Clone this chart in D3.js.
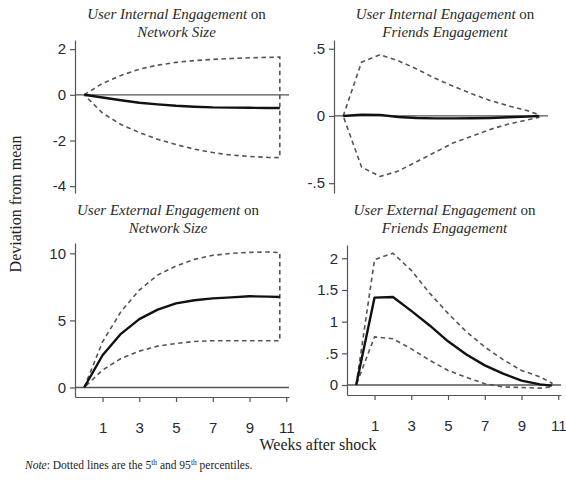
<!DOCTYPE html>
<html>
<head>
<meta charset="utf-8">
<script src="https://cdn.jsdelivr.net/npm/d3@7"></script>
<style>
  html, body { margin: 0; padding: 0; background: #fff; }
  svg { display: block; }
</style>
</head>
<body>
<svg id="chart" width="566" height="484"></svg>
<script>
// ---------- data ----------
const weeks = [0, 1, 2, 3, 4, 5, 6, 7, 8, 9, 10, 10.65];
const xTickValues = [1, 3, 5, 7, 9, 11];

// Top-left: User Internal Engagement on Network Size
const tlIrf = [0, -0.12, -0.24, -0.35, -0.42, -0.48, -0.52, -0.55, -0.56, -0.57, -0.58, -0.58];
const tlHi  = [0, 0.5, 0.85, 1.12, 1.3, 1.42, 1.5, 1.55, 1.59, 1.62, 1.64, 1.65];
const tlLo  = [0, -0.8, -1.3, -1.65, -1.95, -2.18, -2.38, -2.53, -2.64, -2.7, -2.74, -2.75];
const tlTicks = [-4, -2, 0, 2];

// Top-right: User Internal Engagement on Friends Engagement
const trIrf = [0, 0.01, 0.008, -0.008, -0.015, -0.018, -0.018, -0.017, -0.015, -0.01, -0.005, 0];
const trHi  = [0, 0.40, 0.455, 0.41, 0.35, 0.28, 0.22, 0.165, 0.115, 0.075, 0.04, 0.01];
const trLo  = [0, -0.38, -0.45, -0.41, -0.34, -0.27, -0.2, -0.15, -0.1, -0.06, -0.03, -0.01];
const trTicks = [-0.5, 0, 0.5];

// Bottom-left: User External Engagement on Network Size
const blIrf = [0, 2.4, 4.0, 5.1, 5.8, 6.27, 6.5, 6.64, 6.72, 6.8, 6.77, 6.75];
const blHi  = [0, 3.4, 5.65, 7.26, 8.38, 9.05, 9.55, 9.85, 10.0, 10.07, 10.1, 10.05];
const blLo  = [0, 1.3, 2.16, 2.71, 3.08, 3.28, 3.43, 3.48, 3.48, 3.48, 3.48, 3.48];
const blTicks = [0, 5, 10];

// Bottom-right: User External Engagement on Friends Engagement
const brIrf = [0, 1.38, 1.39, 1.17, 0.94, 0.69, 0.48, 0.31, 0.18, 0.07, 0.01, -0.01];
const brHi  = [0, 1.98, 2.08, 1.81, 1.45, 1.13, 0.84, 0.6, 0.4, 0.23, 0.13, 0.03];
const brLo  = [0, 0.76, 0.73, 0.57, 0.39, 0.23, 0.12, 0.02, -0.03, -0.04, -0.05, -0.03];
const brTicks = [0, 0.5, 1, 1.5, 2];

const titleItalic = ["User Internal Engagement", "User Internal Engagement", "User External Engagement", "User External Engagement"];
const titleSecond = ["Network Size", "Friends Engagement", "Network Size", "Friends Engagement"];
const yAxisTitle = "Deviation from mean";
const xAxisTitle = "Weeks after shock";

// ---------- layout ----------
const panels = [
  { irf: tlIrf, hi: tlHi, lo: tlLo, ticks: tlTicks, yDom: [-4.3, 2.4], x0: 75, top: 40, bottom: 193, xAxis: false, tx: 176.5, ty: 18.5 },
  { irf: trIrf, hi: trHi, lo: trLo, ticks: trTicks, yDom: [-0.573, 0.565], x0: 334, top: 40, bottom: 193, xAxis: false, tx: 445, ty: 18.5 },
  { irf: blIrf, hi: blHi, lo: blLo, ticks: blTicks, yDom: [-0.71, 10.77], x0: 75, top: 243, bottom: 397, xAxis: true, tx: 168, ty: 214.5 },
  { irf: brIrf, hi: brHi, lo: brLo, ticks: brTicks, yDom: [-0.158, 2.21], x0: 347, top: 245, bottom: 395, xAxis: true, tx: 444.5, ty: 214.5 }
];
const plotW = 214;
const xDom = [-0.5, 11.15];
const axisColor = "#555";
const tickTextColor = "#1f2a40";
const fmt = d => String(d).replace(/^(-?)0\./, "$1.");

const svg = d3.select("#chart");

panels.forEach((p, i) => {
  const x = d3.scaleLinear().domain(xDom).range([p.x0, p.x0 + plotW]);
  const y = d3.scaleLinear().domain(p.yDom).range([p.bottom, p.top]);
  const g = svg.append("g");

  // zero line
  g.append("line")
    .attr("x1", x(xDom[0])).attr("x2", x(xDom[1]))
    .attr("y1", y(0)).attr("y2", y(0))
    .attr("stroke", axisColor).attr("stroke-width", 1.3);

  // y axis
  const yAx = g.append("g")
    .attr("transform", `translate(${p.x0},0)`)
    .call(d3.axisLeft(y).tickValues(p.ticks).tickFormat(fmt).tickSize(5).tickPadding(4).tickSizeOuter(0));
  yAx.select(".domain").attr("stroke", axisColor).attr("stroke-width", 1.2);
  yAx.selectAll(".tick line").attr("stroke", axisColor).attr("stroke-width", 1.2);
  yAx.selectAll("text").attr("font-family", "Liberation Sans, Arial, sans-serif")
    .attr("font-size", 15).attr("fill", tickTextColor);

  // x axis
  if (p.xAxis) {
    const xAx = g.append("g")
      .attr("transform", `translate(0,${p.bottom})`)
      .call(d3.axisBottom(x).tickValues(xTickValues).tickSize(5).tickPadding(20).tickSizeOuter(0));
    xAx.select(".domain").attr("stroke", axisColor).attr("stroke-width", 1.2);
    xAx.selectAll(".tick line").attr("stroke", axisColor).attr("stroke-width", 1.2);
    xAx.selectAll("text").attr("font-family", "Liberation Sans, Arial, sans-serif")
      .attr("font-size", 15).attr("fill", tickTextColor);
  }

  // confidence band (upper forward, lower backward)
  const bandPts = weeks.map((w, k) => [x(w), y(p.hi[k])])
    .concat(weeks.map((w, k) => [x(w), y(p.lo[k])]).reverse());
  g.append("path")
    .attr("d", d3.line()(bandPts))
    .attr("fill", "none").attr("stroke", "#555").attr("stroke-width", 1.6)
    .attr("stroke-dasharray", "4.5,3.5");

  // impulse response
  g.append("path")
    .attr("d", d3.line().x((w) => x(w)).y((w, k) => y(p.irf[k]))(weeks))
    .attr("fill", "none").attr("stroke", "#111").attr("stroke-width", 2.4)
    .attr("stroke-linejoin", "round");

  // title
  const t1 = g.append("text").attr("x", p.tx).attr("y", p.ty)
    .attr("text-anchor", "middle").attr("font-family", "Liberation Serif, Times New Roman, serif")
    .attr("font-size", 15).attr("fill", "#2a2a2a");
  t1.append("tspan").attr("font-style", "italic").text(titleItalic[i]);
  t1.append("tspan").text(" on");
  g.append("text").attr("x", p.tx).attr("y", p.ty + 18)
    .attr("text-anchor", "middle").attr("font-family", "Liberation Serif, Times New Roman, serif")
    .attr("font-size", 15).attr("font-style", "italic").attr("fill", "#2a2a2a")
    .text(titleSecond[i]);
});

// axis titles
svg.append("text")
  .attr("transform", "translate(21,204) rotate(-90)")
  .attr("text-anchor", "middle").attr("font-family", "Liberation Serif, Times New Roman, serif")
  .attr("font-size", 16).attr("fill", "#222").text(yAxisTitle);

svg.append("text")
  .attr("x", 318).attr("y", 450)
  .attr("text-anchor", "middle").attr("font-family", "Liberation Serif, Times New Roman, serif")
  .attr("font-size", 16).attr("fill", "#222").text(xAxisTitle);

// note
const note = svg.append("text").attr("x", 25).attr("y", 469)
  .attr("font-family", "Liberation Serif, Times New Roman, serif")
  .attr("font-size", 11.5).attr("fill", "#222");
note.append("tspan").attr("font-style", "italic").text("Note");
note.append("tspan").text(": Dotted lines are the 5");
note.append("tspan").attr("font-size", 7.5).attr("dy", -4).text("th");
note.append("tspan").attr("dy", 4).text(" and 95");
note.append("tspan").attr("font-size", 7.5).attr("dy", -4).text("th");
note.append("tspan").attr("dy", 4).text(" percentiles.");
</script>
</body>
</html>
